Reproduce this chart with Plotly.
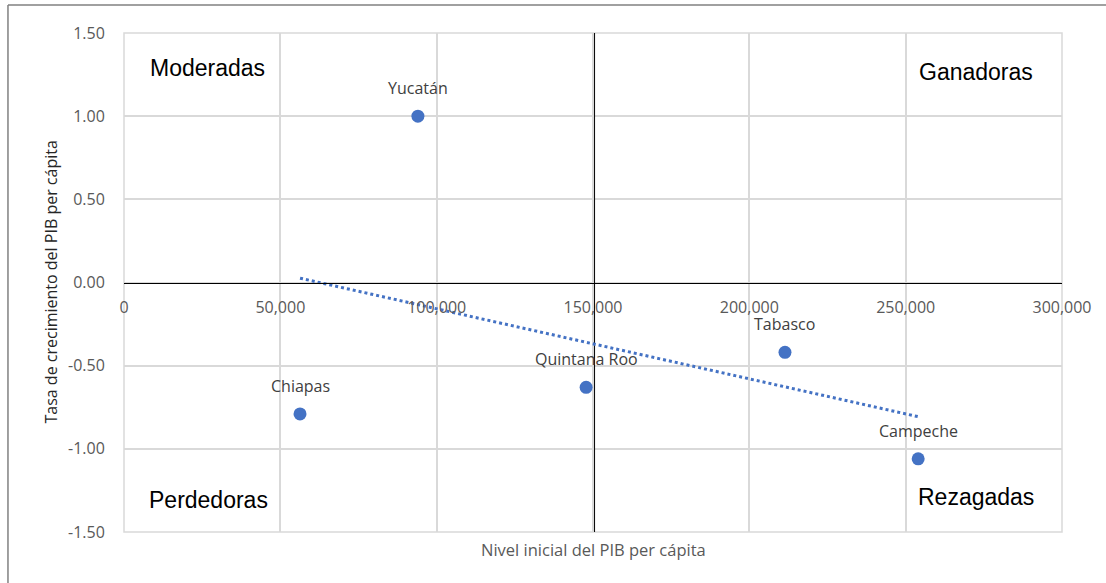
import numpy as np
import plotly.graph_objects as go

# ---- data ----
states = ["Yucatán", "Chiapas", "Quintana Roo", "Tabasco", "Campeche"]
pib_inicial = [94000, 56300, 147800, 211400, 254000]
tasa_crec = [1.00, -0.79, -0.63, -0.42, -1.06]

x_ticks = [0, 50000, 100000, 150000, 200000, 250000, 300000]
x_ticklabels = ["0", "50,000", "100,000", "150,000", "200,000", "250,000", "300,000"]
y_ticks = [-1.5, -1.0, -0.5, 0.0, 0.5, 1.0, 1.5]
y_ticklabels = ["-1.50", "-1.00", "-0.50", "0.00", "0.50", "1.00", "1.50"]
divider_x = 150500

quadrants = ["Moderadas", "Ganadoras", "Perdedoras", "Rezagadas"]
quad_pos_x = [0.0885, 0.908, 0.0896, 0.908]
quad_pos_y = [0.929, 0.922, 0.064, 0.070]

BLUE = "#4472C4"
TICK_FONT = dict(family="Open Sans", size=16, color="#595959")

fig = go.Figure()

# divider line at x = 150,000
fig.add_trace(go.Scatter(
    x=[divider_x, divider_x], y=[y_ticks[0], y_ticks[-1]],
    mode="lines", line=dict(color="black", width=1),
    hoverinfo="skip", showlegend=False))

# linear trendline (least squares fit of the data)
slope, intercept = np.polyfit(pib_inicial, tasa_crec, 1)
tx = np.array([min(pib_inicial), max(pib_inicial)])
fig.add_trace(go.Scatter(
    x=tx, y=slope * tx + intercept, mode="lines",
    line=dict(color=BLUE, width=3, dash="dot"),
    hoverinfo="skip", showlegend=False))

# points
fig.add_trace(go.Scatter(
    x=pib_inicial, y=tasa_crec, mode="markers",
    marker=dict(color=BLUE, size=13),
    text=states, showlegend=False))

annotations = []
for s, xv, yv in zip(states, pib_inicial, tasa_crec):
    annotations.append(dict(
        x=xv, y=yv, xref="x", yref="y", text=s, showarrow=False,
        yshift=28, font=dict(family="Open Sans", size=16, color="#404040")))

for q, qx, qy in zip(quadrants, quad_pos_x, quad_pos_y):
    annotations.append(dict(
        x=qx, y=qy, xref="paper", yref="paper", text=q, showarrow=False,
        xanchor="center", yanchor="middle",
        font=dict(family="Liberation Sans", size=23, color="black")))

# axis titles
annotations.append(dict(
    x=0.5, y=0, xref="paper", yref="paper", yshift=-17,
    text="Nivel inicial del PIB per cápita", showarrow=False,
    xanchor="center", yanchor="middle",
    font=dict(family="Open Sans", size=16.5, color="#595959")))
annotations.append(dict(
    x=0, y=0.5, xref="paper", yref="paper", xshift=-74,
    text="Tasa de crecimiento del PIB per cápita", showarrow=False,
    textangle=-90, xanchor="center", yanchor="middle",
    font=dict(family="Open Sans", size=16, color="#262626")))

shapes = [
    # plot frame (light gray)
    dict(type="rect", xref="x domain", yref="y domain", x0=0, x1=1, y0=0, y1=1,
         line=dict(color="#d9d9d9", width=1.5), layer="below"),
    # outer chart border (left & top)
    dict(type="line", xref="paper", yref="paper", x0=-0.1237, x1=-0.1237,
         y0=-0.2, y1=1.056, line=dict(color="#808080", width=1.5)),
    dict(type="line", xref="paper", yref="paper", x0=-0.1237, x1=1.1,
         y0=1.056, y1=1.056, line=dict(color="#808080", width=1.5)),
]

fig.update_layout(
    width=1106, height=583,
    margin=dict(l=124, r=44, t=33, b=51),
    paper_bgcolor="white", plot_bgcolor="white",
    annotations=annotations, shapes=shapes,
    xaxis=dict(
        range=[x_ticks[0], x_ticks[-1]], tickvals=x_ticks, ticktext=x_ticklabels,
        tickfont=TICK_FONT,
        showgrid=True, gridcolor="#d9d9d9", gridwidth=1.5,
        zeroline=False, anchor="free", position=0.5,
        showline=True, linecolor="black", linewidth=1,
        ticks="outside", ticklen=0, ticklabelstandoff=10,
    ),
    yaxis=dict(
        range=[y_ticks[0], y_ticks[-1]], tickvals=y_ticks, ticktext=y_ticklabels,
        tickfont=TICK_FONT,
        showgrid=True, gridcolor="#d9d9d9", gridwidth=1.5,
        zeroline=False, showline=False,
        ticks="outside", ticklen=0, ticklabelstandoff=15,
    ),
)

fig.write_html("out.html")
